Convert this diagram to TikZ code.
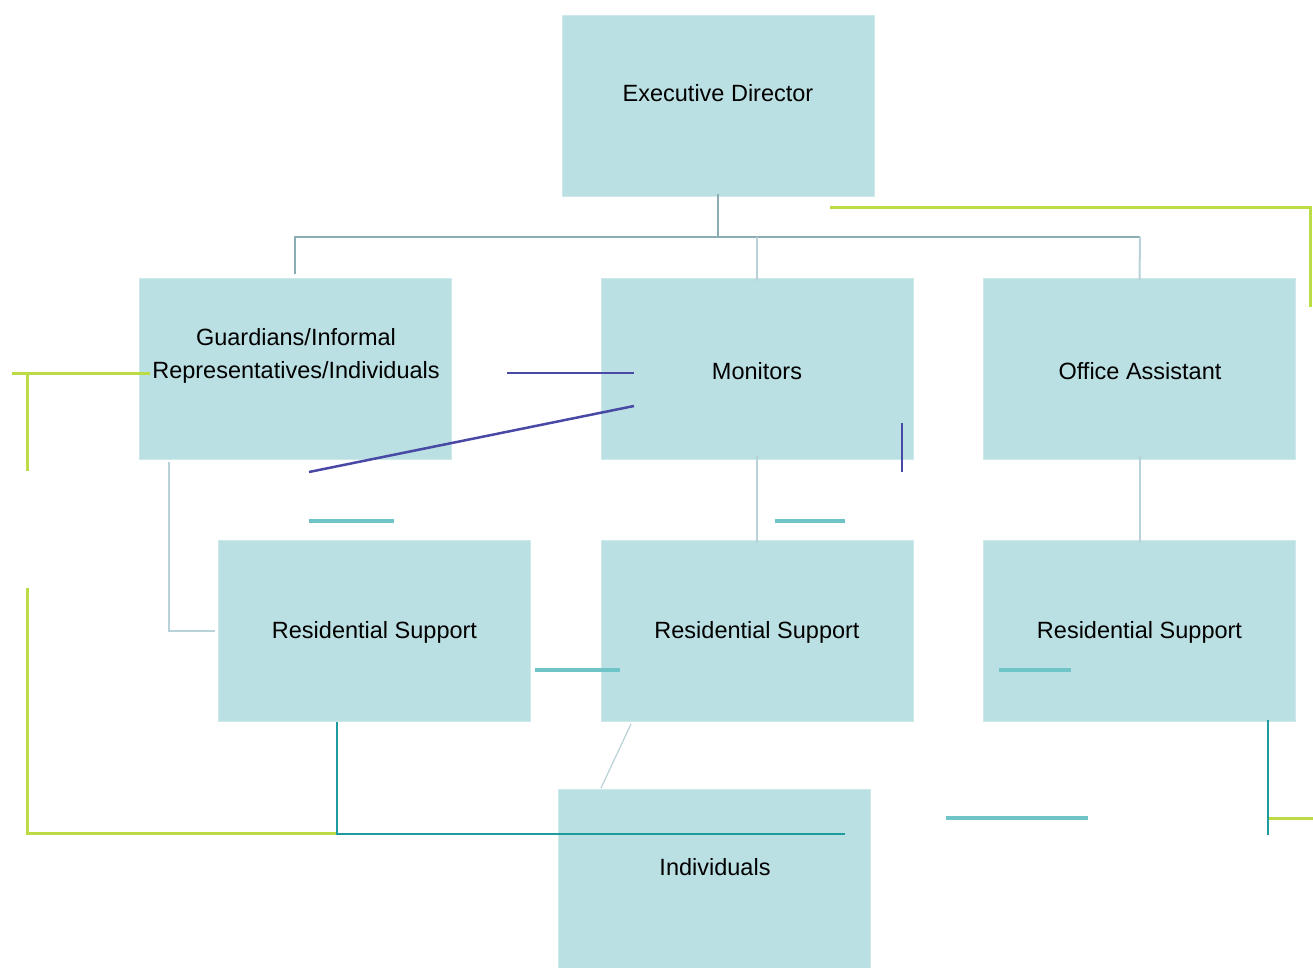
\documentclass[tikz,border=0pt]{standalone}
\usepackage{fontspec}
\setmainfont{Liberation Sans}
\begin{document}
\begin{tikzpicture}[x=1pt,y=-1pt,
  box/.style={fill=boxfill, draw=boxfill!70!white, line width=0.8pt, minimum width=312pt, minimum height=181pt, inner sep=0pt},
  lbl/.style={font=\fontsize{23.5}{33}\selectfont, text=black, align=center, inner sep=0pt},
  tree/.style={draw=treegrey, line width=2pt},
  treelight/.style={draw=treelight, line width=2pt},
  lime/.style={draw=limegreen, line width=3pt},
  navy/.style={draw=navyline, line width=2.5pt},
  tealdash/.style={draw=tealdash, line width=4pt},
  deepteal/.style={draw=deepteal, line width=2.5pt}]
\definecolor{boxfill}{RGB}{187,224,227}
\definecolor{treegrey}{RGB}{140,172,180}
\definecolor{treelight}{RGB}{185,210,215}
\definecolor{limegreen}{RGB}{188,220,70}
\definecolor{navyline}{RGB}{72,72,165}
\definecolor{tealdash}{RGB}{110,196,198}
\definecolor{deepteal}{RGB}{30,155,158}

\useasboundingbox (0,0) rectangle (1313,968);

% boxes
\node[box] (ed) at (718,106) {};
\node[box] (gu) at (295.5,368.5) {};
\node[box] (mo) at (757,368.5) {};
\node[box] (oa) at (1139.5,368.5) {};
\node[box] (rs1) at (374.5,631) {};
\node[box] (rs2) at (757,631) {};
\node[box] (rs3) at (1139.5,631) {};
\node[box] (in) at (714.5,880) {};

% box labels
\node[lbl] (edt) at (718,93) {Executive Director};
\node[lbl] (gut) at (296,356) {Guardians/Informal\\Representatives/Individuals};
\node[lbl] (mot) at (757,371) {Monitors};
\node[lbl] (oat) at (1140,371) {Office Assistant};
\node[lbl] (rs1t) at (374.5,632) {Residential Support};
\node[lbl] (rs2t) at (757,632) {Residential Support};
\node[lbl] (rs3t) at (1139.5,632) {Residential Support};
\node[lbl] (int) at (715,867) {Individuals};

% reporting tree
\coordinate (bus) at (718,237);
\draw[tree] ([yshift=3pt]ed.south) -- (bus);
\draw[tree] (295,274) -- (295,237) -- (1140,237);
\draw[treelight] (757,237) -- ([yshift=-3pt]mo.north);
\draw[treelight] (1140,237) -- ([yshift=-3pt]oa.north);
\draw[treelight] (169,462) -- (169,631) -- ([xshift=-3pt]rs1.west);
\draw[treelight] ([yshift=3pt]mo.south) -- ([yshift=-3pt]rs2.north);
\draw[treelight] ([yshift=3pt]oa.south) -- ([yshift=-3pt]rs3.north);
\draw[treelight, line width=1.2pt] (631,724) -- (601,788);

% green links
\coordinate (g1a) at (830,208);
\coordinate (g1b) at (1310,208);
\coordinate (g1c) at (1310,307);
\draw[lime] (g1a) -- (g1b) -- (g1c);
\coordinate (g2a) at (12,373);
\coordinate (g2b) at (150,373);
\draw[lime] (g2a) -- (g2b);
\draw[lime] (27,373) -- (27,471);
\coordinate (g3a) at (27,588);
\coordinate (g3b) at (27,833);
\coordinate (g3c) at (337,833);
\draw[lime] (g3a) -- (g3b) -- (g3c);
\coordinate (g4a) at (1268,818);
\coordinate (g4b) at (1313,818);
\draw[lime] (g4a) -- (g4b);

% navy links
\coordinate (n1a) at (507,373);
\coordinate (n1b) at (634,373);
\draw[navy] (n1a) -- (n1b);
\coordinate (n2a) at (634,406);
\coordinate (n2b) at (309,472);
\draw[navy] (n2a) -- (n2b);
\coordinate (n3a) at (902,423);
\coordinate (n3b) at (902,472);
\draw[navy] (n3a) -- (n3b);

% short teal strokes
\draw[tealdash] (309,521) -- (394,521);
\draw[tealdash] (775,521) -- (845,521);
\draw[tealdash] (535,670) -- (620,670);
\draw[tealdash] (999,670) -- (1071,670);
\draw[tealdash] (946,818) -- (1088,818);

% deep teal links
\draw[deepteal] (rs1.south -| 337,0) -- (337,834) -- (845,834);
\draw[deepteal] (1268,720) -- (1268,835);
\end{tikzpicture}
\end{document}
